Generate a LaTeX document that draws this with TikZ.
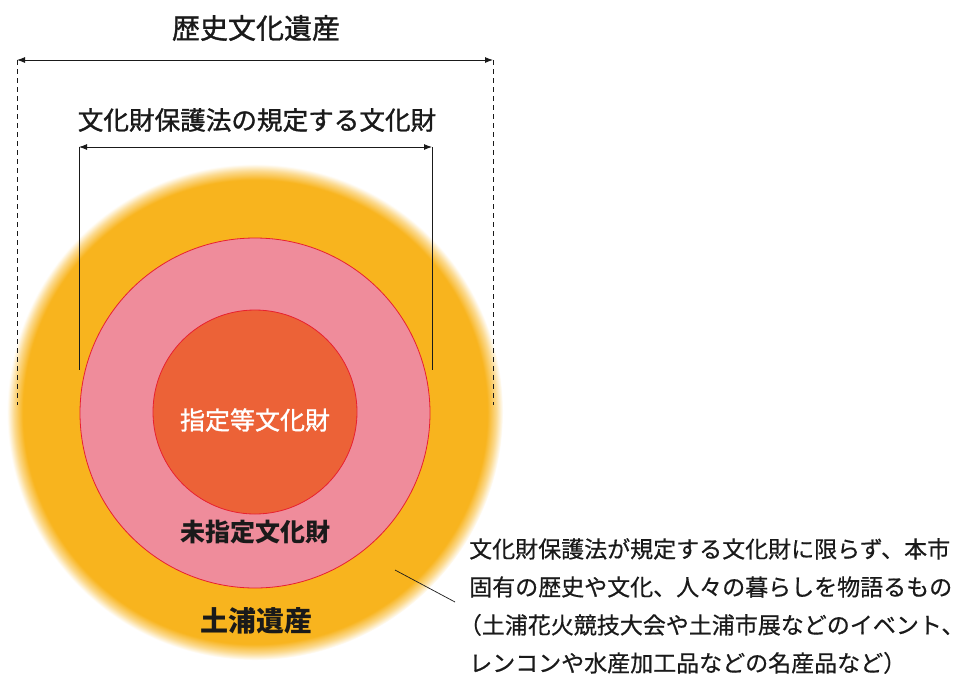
\documentclass[tikz,border=0pt]{standalone}
\usepackage{fontspec}
\setmainfont{Noto Sans CJK JP}
\newfontfamily\jp{Noto Sans CJK JP}
\newfontfamily\jpm[FakeBold=1.2]{Noto Sans CJK JP}
\newfontfamily\jpt[FakeBold=0.5]{Noto Sans CJK JP}
\usetikzlibrary{arrows.meta}
\definecolor{ura}{HTML}{F8B41E}
\definecolor{pinkc}{HTML}{EF8C9B}
\definecolor{innerc}{HTML}{EC6237}
\definecolor{rim}{HTML}{E8202F}
\definecolor{ink}{HTML}{1A1A1A}
\pgfdeclareradialshading{glow}{\pgfpoint{0bp}{0bp}}{color(0bp)=(ura); color(23.4bp)=(ura); color(24.3bp)=(ura!50!white); color(25bp)=(white); color(50bp)=(white)}
\tikzset{
  ring/.style={circle, draw=rim, line width=0.8pt, inner sep=0pt},
  lbl/.style={font=\jp, text=ink, inner sep=0pt},
  dimarrow/.style={{Latex[length=8pt,width=6pt]}-{Latex[length=8pt,width=6pt]}, line width=0.9pt, ink},
  guide/.style={line width=0.7pt, ink},
}
\begin{document}
\begin{tikzpicture}[x=1pt,y=-1pt]
\useasboundingbox (0,0) rectangle (966,689);
\fill[white] (0,0) rectangle (966,689);
% outer glow circle
\shade[shading=glow] (255,412) circle (248);
\node[ring, fill=pinkc, minimum size=350pt] (pink) at (255,413) {};
\node[ring, fill=innerc, minimum size=204pt] (inner) at (255,412) {};
% texts
\node[lbl, font=\jpm\fontsize{28}{28}\selectfont] (t1) at (256,28) {歴史文化遺産};
\node[lbl, font=\jpm\fontsize{25.6}{25.6}\selectfont] (t2) at (257,120) {文化財保護法の規定する文化財};
\node[lbl, text=white, font=\jpm\fontsize{25}{25}\selectfont] (t3) at (255,420) {指定等文化財};
\node[lbl, font=\jp\bfseries\fontsize{25}{25}\selectfont] (t4) at (255,532) {未指定文化財};
\node[lbl, font=\jp\bfseries\fontsize{28}{28}\selectfont] (t5) at (256,621) {土浦遺産};
\node[lbl, anchor=north west, align=left, font=\jpt\fontsize{23}{38}\selectfont] (t6) at (469,538)
  {文化財保護法が規定する文化財に限らず、本市\\固有の歴史や文化、人々の暮らしを物語るもの\\\hspace*{-0.45em}（土浦花火競技大会や土浦市展などのイベント、\\レンコンや水産加工品などの名産品など）};
% dimension lines
\coordinate (a1) at (17,60); \coordinate (a2) at (493,60);
\coordinate (a1b) at (17,405); \coordinate (a2b) at (493,405);
\draw[dimarrow] (a1) -- (a2);
\draw[guide, dash pattern=on 5pt off 4pt] (a1) -- (a1b);
\draw[guide, dash pattern=on 5pt off 4pt] (a2) -- (a2b);
\coordinate (b1) at (79,147); \coordinate (b2) at (432,147);
\coordinate (b1b) at (79,370); \coordinate (b2b) at (432,370);
\draw[dimarrow] (b1) -- (b2);
\draw[guide] (b1) -- (b1b);
\draw[guide] (b2) -- (b2b);
% callout
\coordinate (c1) at (395,570); \coordinate (c2) at (455,602);
\draw[guide] (c1) -- (c2);
\end{tikzpicture}
\end{document}
